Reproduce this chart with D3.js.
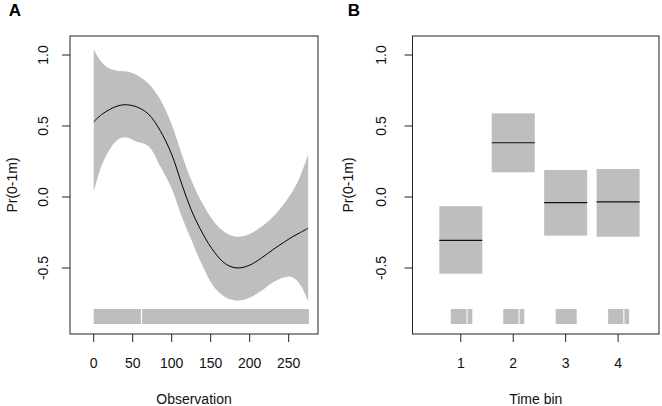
<!DOCTYPE html>
<html>
<head>
<meta charset="utf-8">
<script src="https://cdn.jsdelivr.net/npm/d3@7"></script>
<style>
  body { margin: 0; background: #fff; }
  svg { display: block; font-family: "Liberation Sans", Arial, sans-serif; }
</style>
</head>
<body>
<div id="chart"></div>
<script>
// ---- panel A: smooth term over observation ----
const obs   = [0, 10, 20, 30, 40, 55, 70, 85, 100, 113, 125, 140, 155, 170, 185, 200, 215, 230, 245, 255, 265, 275];
const fitA  = [0.53, 0.58, 0.615, 0.64, 0.65, 0.635, 0.585, 0.47, 0.30, 0.09, -0.09, -0.26, -0.39, -0.475, -0.50, -0.48, -0.43, -0.37, -0.315, -0.28, -0.25, -0.22];
const hiA   = [1.04, 0.95, 0.905, 0.89, 0.885, 0.86, 0.80, 0.69, 0.51, 0.30, 0.12, -0.05, -0.18, -0.255, -0.28, -0.26, -0.21, -0.14, -0.04, 0.04, 0.15, 0.30];
const loA   = [0.035, 0.22, 0.33, 0.40, 0.42, 0.39, 0.36, 0.22, 0.06, -0.14, -0.30, -0.49, -0.64, -0.71, -0.73, -0.71, -0.66, -0.60, -0.565, -0.565, -0.62, -0.735];
const rugA  = [[0, 60.5], [62, 276]];
const xTicksA = [0, 50, 100, 150, 200, 250];

// ---- panel B: factor term over time bin ----
const bins  = [1, 2, 3, 4];
const fitB  = [-0.305, 0.382, -0.04, -0.035];
const hiB   = [-0.065, 0.589, 0.19, 0.197];
const loB   = [-0.54, 0.174, -0.272, -0.28];
const rugB  = [[0.81, 1.11], [1.13, 1.22], [1.81, 2.10], [2.12, 2.21],
               [2.81, 3.21], [3.81, 4.10], [4.12, 4.21]];

const yTicks = [-0.5, 0.0, 0.5, 1.0];

const W = 662, H = 406;
const fs = 14;
const grey = "#bebebe";
const ink = "#222";

const svg = d3.select("#chart").append("svg")
    .attr("width", W).attr("height", H);

function panel(opt) {
    const x = d3.scaleLinear().domain(opt.xdom).range([opt.left, opt.right]);
    const y = d3.scaleLinear().domain([-0.965, 1.134]).range([334, 36]);
    const g = svg.append("g");

    opt.draw(g, x, y);

    // rug along the bottom
    g.append("g").selectAll("rect")
      .data(opt.rug)
      .join("rect")
        .attr("x", d => x(d[0]))
        .attr("width", d => x(d[1]) - x(d[0]))
        .attr("y", 309)
        .attr("height", 15)
        .attr("fill", grey);

    // box
    g.append("rect")
        .attr("x", opt.left).attr("y", 36)
        .attr("width", opt.right - opt.left).attr("height", 298)
        .attr("fill", "none").attr("stroke", ink).attr("stroke-width", 1);

    // y axis
    const ya = g.append("g");
    ya.selectAll("line").data(yTicks).join("line")
        .attr("x1", opt.left - 8).attr("x2", opt.left)
        .attr("y1", d => y(d)).attr("y2", d => y(d))
        .attr("stroke", ink);
    ya.selectAll("text").data(yTicks).join("text")
        .attr("transform", d => `translate(${opt.tickLabX},${y(d)}) rotate(-90)`)
        .attr("text-anchor", "middle")
        .attr("dominant-baseline", "central")
        .attr("font-size", fs).attr("fill", "#111")
        .text(d => d3.format(".1f")(d).replace("−", "-"));

    // x axis
    const xa = g.append("g");
    xa.selectAll("line").data(opt.xticks).join("line")
        .attr("x1", d => x(d)).attr("x2", d => x(d))
        .attr("y1", 334).attr("y2", 342)
        .attr("stroke", ink);
    xa.selectAll("text").data(opt.xticks).join("text")
        .attr("x", d => x(d)).attr("y", 363)
        .attr("text-anchor", "middle")
        .attr("dominant-baseline", "central")
        .attr("font-size", fs).attr("fill", "#111")
        .text(d => d);

    // titles
    g.append("text")
        .attr("x", (opt.left + opt.right) / 2).attr("y", 399)
        .attr("text-anchor", "middle").attr("dominant-baseline", "central")
        .attr("font-size", fs).attr("fill", "#111")
        .text(opt.xlab);
    g.append("text")
        .attr("transform", `translate(${opt.ylabX},185) rotate(-90)`)
        .attr("text-anchor", "middle").attr("dominant-baseline", "central")
        .attr("font-size", fs).attr("fill", "#111")
        .text("Pr(0-1m)");
    g.append("text")
        .attr("x", opt.tagX).attr("y", 10)
        .attr("text-anchor", "middle").attr("dominant-baseline", "central")
        .attr("font-size", 17).attr("font-weight", "bold").attr("fill", "#000")
        .text(opt.tag);
}

panel({
    tag: "A", tagX: 15,
    left: 70, right: 318,
    xdom: [-30.4, 287.6],
    xticks: xTicksA,
    rug: rugA,
    tickLabX: 43, ylabX: 12,
    xlab: "Observation",
    draw: (g, x, y) => {
        const idx = d3.range(obs.length);
        g.append("path")
            .datum(idx)
            .attr("fill", grey)
            .attr("d", d3.area()
                .curve(d3.curveCatmullRom)
                .x(i => x(obs[i]))
                .y0(i => y(loA[i]))
                .y1(i => y(hiA[i])));
        g.append("path")
            .datum(idx)
            .attr("fill", "none")
            .attr("stroke", "#000")
            .attr("stroke-width", 1)
            .attr("d", d3.line()
                .curve(d3.curveCatmullRom)
                .x(i => x(obs[i]))
                .y(i => y(fitA[i])));
    }
});

panel({
    tag: "B", tagX: 354,
    left: 412.5, right: 659,
    xdom: [0.079, 4.78],
    xticks: bins,
    rug: rugB,
    tickLabX: 381, ylabX: 348,
    xlab: "Time bin",
    draw: (g, x, y) => {
        const half = 0.41;
        g.append("g").selectAll("rect")
          .data(bins)
          .join("rect")
            .attr("x", (d) => x(d - half))
            .attr("width", d => x(d + half) - x(d - half))
            .attr("y", (d, i) => y(hiB[i]))
            .attr("height", (d, i) => y(loB[i]) - y(hiB[i]))
            .attr("fill", grey);
        g.append("g").selectAll("line")
          .data(bins)
          .join("line")
            .attr("x1", d => x(d - half))
            .attr("x2", d => x(d + half))
            .attr("y1", (d, i) => y(fitB[i]))
            .attr("y2", (d, i) => y(fitB[i]))
            .attr("stroke", "#111")
            .attr("stroke-width", 1.2);
    }
});
</script>
</body>
</html>
